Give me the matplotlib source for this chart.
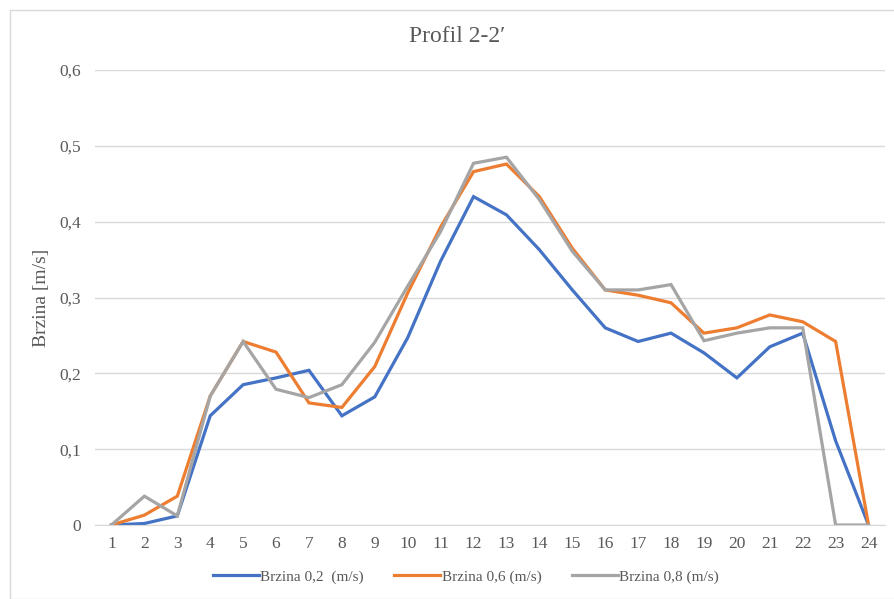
import numpy as np
import matplotlib
matplotlib.use('Agg')
from matplotlib import pyplot as plt
from matplotlib.patches import Rectangle
from matplotlib.ticker import FuncFormatter

points = list(range(1, 25))
brzina_02 = [0, 0.002, 0.012, 0.144, 0.185, 0.194, 0.204, 0.144, 0.169, 0.247, 0.348, 0.433,
             0.409, 0.363, 0.310, 0.260, 0.242, 0.253, 0.227, 0.194, 0.235, 0.253, 0.111, 0]
brzina_06 = [0, 0.013, 0.038, 0.170, 0.242, 0.228, 0.161, 0.155, 0.209, 0.306, 0.393, 0.466,
             0.476, 0.433, 0.365, 0.310, 0.303, 0.293, 0.253, 0.260, 0.277, 0.268, 0.242, 0]
brzina_08 = [0, 0.038, 0.012, 0.170, 0.242, 0.179, 0.168, 0.185, 0.241, 0.315, 0.387, 0.477,
             0.485, 0.429, 0.361, 0.310, 0.310, 0.317, 0.243, 0.253, 0.260, 0.260, 0, 0]
labels = ['Brzina 0,2  (m/s)', 'Brzina 0,6 (m/s)', 'Brzina 0,8 (m/s)']
colors = ['#4472C4', '#ED7D31', '#A5A5A5']

plt.rcParams['font.family'] = ['Liberation Serif', 'DejaVu Serif']
text_color = '#595959'

W, H = 894, 599
fig = plt.figure(figsize=(W/100, H/100), dpi=100)
ax = fig.add_axes([95/W, 74/H, 790/W, 455/H])

for series, label, color in zip([brzina_02, brzina_06, brzina_08], labels, colors):
    ax.plot(points, series, color=color, lw=2.3, label=label, solid_joinstyle='miter')

ax.set_xlim(0.5, 24.5)
ax.set_ylim(0, 0.6)
ax.set_xticks(points)
ax.set_yticks(np.arange(0, 0.61, 0.1))
ax.yaxis.set_major_formatter(FuncFormatter(lambda v, p: '0' if abs(v) < 1e-9 else f'{v:.1f}'.replace('.', ',')))
ax.grid(axis='y', color='#D9D9D9', lw=1)
ax.set_axisbelow(True)
for s in ['top', 'right', 'left']:
    ax.spines[s].set_visible(False)
ax.spines['bottom'].set_color('#D9D9D9')
ax.tick_params(length=0, labelsize=12.5, colors=text_color, pad=8)
ax.tick_params(axis='y', pad=10)
ax.set_ylabel('Brzina [m/s]', fontsize=14, color=text_color)
ax.yaxis.set_label_coords((50 - 95)/790, 0.5)
fig.text(457/W, 1 - 36/H, 'Profil 2-2′', fontsize=17, color=text_color, ha='center', va='center')

leg = fig.legend(loc='center', bbox_to_anchor=(466/W, 1 - 577/H), ncol=3, frameon=False,
                 fontsize=11, handlelength=3.0, handletextpad=0.1, columnspacing=2.0)
for t in leg.get_texts():
    t.set_color(text_color)

fig.patches.append(Rectangle((10/W, 0), 1, 1 - 9.5/H, transform=fig.transFigure,
                             fill=False, edgecolor='#D9D9D9', lw=1))

fig.savefig('out.png', dpi=100)
